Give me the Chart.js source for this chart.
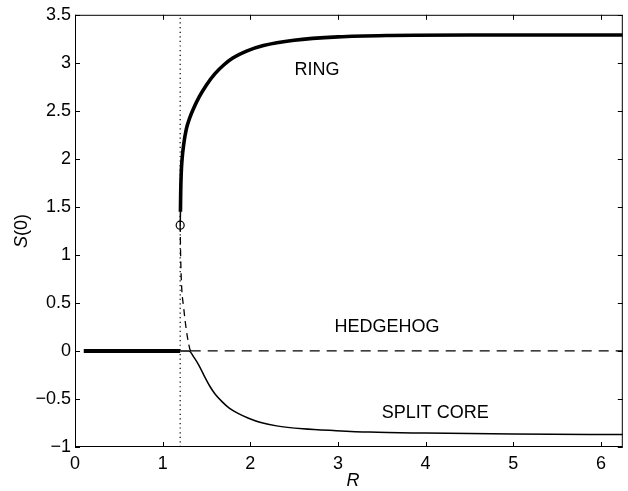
<!DOCTYPE html>
<html>
<head>
<meta charset="utf-8">
<script src="https://cdn.jsdelivr.net/npm/chart.js@4.4.0/dist/chart.umd.min.js"></script>
<style>
  html, body { margin: 0; padding: 0; background: #fff; }
</style>
</head>
<body>
<canvas id="myChart" width="628" height="491"></canvas>
<script>
// Hedgehog branch: stable part (thick) and unstable continuation (dashed)
const hedgehogStableR = [0.1, 1.2];
const hedgehogStableS = [0, 0];
const hedgehogUnstableR = [1.32, 6.25];
const hedgehogUnstableS = [0, 0];

// Ring branch, thin stub from the turning point then the thick stable part
const ringStubR = [1.2, 1.203];
const ringStubS = [1.31, 1.45];
const ringR = [1.203, 1.206, 1.212, 1.222, 1.24, 1.27, 1.31, 1.35, 1.42, 1.5, 1.6, 1.7, 1.8, 1.95, 2.15, 2.5, 3.0, 3.6, 4.5, 6.25];
const ringS = [1.45, 1.65, 1.85, 2.0, 2.15, 2.31, 2.43, 2.52, 2.65, 2.77, 2.89, 2.98, 3.05, 3.12, 3.18, 3.235, 3.27, 3.285, 3.29, 3.29];

// Unstable branch joining the turning point to the hedgehog
const unstableR = [1.2, 1.205, 1.215, 1.24, 1.27, 1.31, 1.32];
const unstableS = [1.31, 1.0, 0.70, 0.45, 0.22, 0.02, 0];

// Split core branch
const splitR = [1.2, 1.3, 1.36, 1.42, 1.48, 1.54, 1.6, 1.68, 1.76, 1.86, 1.98, 2.12, 2.3, 2.6, 2.98, 3.36, 4.0, 5.0, 6.25];
const splitS = [0, 0, -0.07, -0.16, -0.27, -0.37, -0.45, -0.53, -0.595, -0.65, -0.70, -0.745, -0.78, -0.81, -0.83, -0.845, -0.855, -0.865, -0.87];

// Turning point and critical radius
const turnR = [1.2];
const turnS = [1.31];
const criticalR = 1.2;

// Axes
const xTicks = [0, 1, 2, 3, 4, 5, 6];
const yTicks = [-1, -0.5, 0, 0.5, 1, 1.5, 2, 2.5, 3, 3.5];
const xMin = 0, xMax = 6.25;
const yMin = -1, yMax = 3.5;

// Branch names
const branchLabels = ['RING', 'HEDGEHOG', 'SPLIT CORE'];
const branchLabelR = [2.76, 3.56, 4.11];
const branchLabelS = [2.92, 0.25, -0.65];

const FONT = '"Liberation Sans", Arial, Helvetica, sans-serif';

function pts(xs, ys) {
    return xs.map((v, i) => ({ x: v, y: ys[i] }));
}

function fmt(v) {
    return v < 0 ? '\u2212' + Math.abs(v) : String(v);
}

function line(data, width, dash) {
    return {
        data: data,
        showLine: true,
        borderColor: '#000',
        borderWidth: width,
        borderDash: dash || [],
        pointRadius: 0,
        fill: false,
        cubicInterpolationMode: 'monotone'
    };
}

// box with inward ticks on all four sides, axis titles and branch names
const framePlugin = {
    id: 'frame',
    afterDraw(chart) {
        const { ctx, chartArea: a, scales: { x, y } } = chart;
        ctx.save();
        ctx.strokeStyle = '#000';
        ctx.lineWidth = 1;
        ctx.strokeRect(a.left + 0.5, a.top + 0.5, a.width - 1, a.height - 1);
        ctx.beginPath();
        x.ticks.forEach(t => {
            const px = Math.round(x.getPixelForValue(t.value)) + 0.5;
            ctx.moveTo(px, a.bottom); ctx.lineTo(px, a.bottom - 5);
            ctx.moveTo(px, a.top); ctx.lineTo(px, a.top + 5);
        });
        y.ticks.forEach(t => {
            const py = Math.round(y.getPixelForValue(t.value)) + 0.5;
            ctx.moveTo(a.left, py); ctx.lineTo(a.left + 5, py);
            ctx.moveTo(a.right, py); ctx.lineTo(a.right - 5, py);
        });
        ctx.stroke();

        ctx.fillStyle = '#000';
        ctx.textBaseline = 'middle';
        ctx.textAlign = 'center';

        // x title
        ctx.font = 'italic 18px ' + FONT;
        ctx.fillText('R', (a.left + a.right) / 2 + 4, a.bottom + 34);

        // y title: italic S followed by (0)
        ctx.save();
        ctx.translate(22, (a.top + a.bottom) / 2);
        ctx.rotate(-Math.PI / 2);
        ctx.textAlign = 'left';
        ctx.font = 'italic 18px ' + FONT;
        const wS = ctx.measureText('S').width;
        ctx.font = '18px ' + FONT;
        const w0 = ctx.measureText('(0)').width;
        const start = -(wS + w0) / 2;
        ctx.font = 'italic 18px ' + FONT;
        ctx.fillText('S', start, 0);
        ctx.font = '18px ' + FONT;
        ctx.fillText('(0)', start + wS, 0);
        ctx.restore();

        ctx.font = '18px ' + FONT;
        branchLabels.forEach((txt, i) => {
            ctx.fillText(txt, x.getPixelForValue(branchLabelR[i]), y.getPixelForValue(branchLabelS[i]));
        });
        ctx.restore();
    }
};

const ctx = document.getElementById('myChart').getContext('2d');
const myChart = new Chart(ctx, {
    type: 'scatter',
    data: {
        datasets: [
            line(pts(hedgehogStableR, hedgehogStableS), 4),
            line(pts(hedgehogUnstableR, hedgehogUnstableS), 1.3, [10, 7]),
            line(pts(ringStubR, ringStubS), 1.5),
            line(pts(ringR, ringS), 3.6),
            line(pts(unstableR, unstableS), 1.3, [7, 5]),
            line(pts(splitR, splitS), 1.5),
            line(pts([criticalR, criticalR], [yMin, yMax]), 1.2, [1.2, 3.4]),
            {
                data: pts(turnR, turnS),
                showLine: false,
                pointStyle: 'circle',
                pointRadius: 4,
                pointBorderWidth: 1.2,
                pointBorderColor: '#000',
                pointBackgroundColor: 'rgba(0,0,0,0)'
            }
        ]
    },
    options: {
        responsive: false,
        animation: false,
        layout: { padding: { top: 14, right: 5, left: 0, bottom: 0 } },
        plugins: {
            legend: { display: false },
            tooltip: { enabled: false }
        },
        scales: {
            x: {
                type: 'linear',
                min: xMin,
                max: xMax,
                afterBuildTicks: s => { s.ticks = xTicks.map(v => ({ value: v })); },
                afterFit: s => { s.height = 44; },
                grid: { display: false, drawTicks: false },
                border: { display: false },
                ticks: {
                    color: '#000',
                    padding: 6,
                    maxRotation: 0,
                    font: { family: FONT, size: 18 },
                    callback: v => fmt(v)
                }
            },
            y: {
                type: 'linear',
                min: yMin,
                max: yMax,
                afterBuildTicks: s => { s.ticks = yTicks.map(v => ({ value: v })); },
                afterFit: s => { s.width = 75; },
                grid: { display: false, drawTicks: false },
                border: { display: false },
                ticks: {
                    color: '#000',
                    padding: 4,
                    font: { family: FONT, size: 18 },
                    callback: v => fmt(v)
                }
            }
        }
    },
    plugins: [framePlugin]
});
</script>
</body>
</html>
